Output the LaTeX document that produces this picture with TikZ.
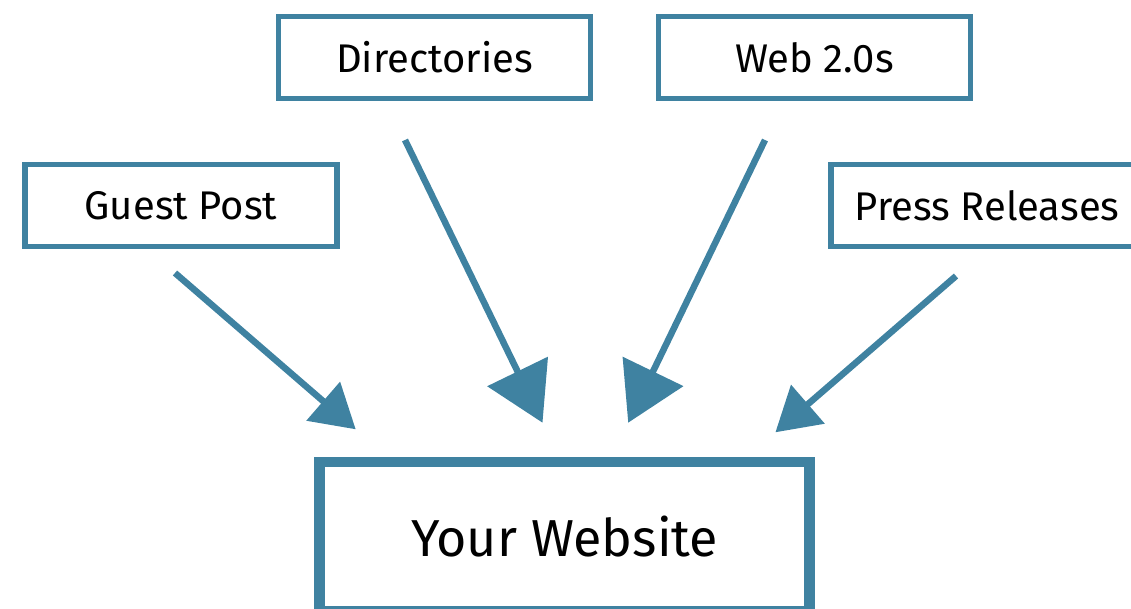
\documentclass[tikz,border=0pt]{standalone}
\usepackage{fontspec}
\setmainfont{Fira Sans}
\usetikzlibrary{arrows.meta}
\definecolor{teal}{RGB}{63,130,161}
\tikzset{
  srcbox/.style={draw=teal, line width=5.5pt, minimum width=312pt, minimum height=82pt, inner sep=0pt, font=\fontsize{40}{48}\selectfont, text=black},
  mainbox/.style={draw=teal, line width=10.5pt, minimum width=490pt, minimum height=149pt, inner sep=0pt, font=\fontsize{52}{62}\selectfont, text=black},
  bigarr/.style={draw=teal, line width=6.5pt, -{Triangle[length=57pt,width=66pt]}},
  smallarr/.style={draw=teal, line width=6.5pt, -{Triangle[length=43pt,width=50pt]}},
}
\begin{document}
\begin{tikzpicture}[x=1pt,y=-1pt]
\useasboundingbox (0,0) rectangle (1131,608);
\clip (0,0) rectangle (1131,608);
\node[srcbox] (dir) at (434.5,57.5) {Directories};
\node[srcbox] (web) at (814.5,57.5) {Web 2.0s};
\node[srcbox] (gp) at (181,205.5) {Guest Post};
\node[srcbox] (pr) at (987,205.5) {Press Releases};
\node[mainbox] (yw) at (564.5,536.5) {Your Website};
\coordinate (gps) at (175,273);
\coordinate (gpt) at (355.7,429.3);
\coordinate (dirs) at (405,140);
\coordinate (dirt) at (542.5,422.7);
\coordinate (webs) at (765,140);
\coordinate (webt) at (628.2,422.7);
\coordinate (prs) at (956,276);
\coordinate (prt) at (775.4,432.3);
\draw[smallarr] (gps) -- (gpt);
\draw[bigarr] (dirs) -- (dirt);
\draw[bigarr] (webs) -- (webt);
\draw[smallarr] (prs) -- (prt);
\end{tikzpicture}
\end{document}
